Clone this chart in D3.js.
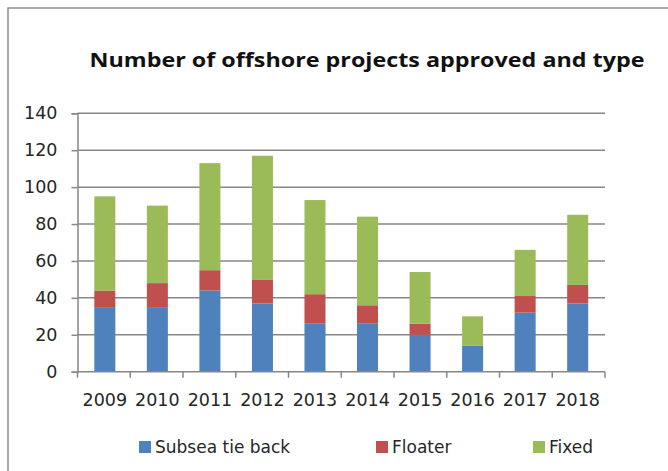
<!DOCTYPE html>
<html>
<head>
<meta charset="utf-8">
<script src="https://cdn.jsdelivr.net/npm/d3@7"></script>
<style>
  html, body { margin: 0; padding: 0; background: #fff; }
  svg { display: block; }
</style>
</head>
<body>
<div id="chart"></div>
<script>
// Offshore projects approved per year, split by development type
const years = ["2009","2010","2011","2012","2013","2014","2015","2016","2017","2018"];
const subseaTieBack = [35, 35, 44, 37, 26, 26, 20, 14, 32, 37];
const floater       = [ 9, 13, 11, 13, 16, 10,  6,  0,  9, 10];
const fixed         = [51, 42, 58, 67, 51, 48, 28, 16, 25, 38];
const seriesNames   = ["Subsea tie back", "Floater", "Fixed"];
const seriesColors  = ["#4F81BD", "#C0504D", "#9BBB59"];
const yTicks        = [0, 20, 40, 60, 80, 100, 120, 140];

const W = 668, H = 471;
const plot = { left: 77.5, right: 605, top: 113.3, bottom: 371.7 };

const svg = d3.select("#chart").append("svg")
  .attr("width", W).attr("height", H);

// chart area frame
svg.append("rect")
  .attr("x", 8).attr("y", 8).attr("width", 700).attr("height", 500)
  .attr("fill", "#fff").attr("stroke", "#8f8f8f").attr("stroke-width", 1.5);

// title
svg.append("text")
  .attr("x", 367).attr("y", 67)
  .attr("text-anchor", "middle")
  .attr("font-family", "'Open Sans', 'DejaVu Sans', sans-serif")
  .attr("font-weight", "bold")
  .attr("font-size", 19)
  .attr("fill", "#111")
  .attr("textLength", 555).attr("lengthAdjust", "spacingAndGlyphs")
  .text("Number of offshore projects approved and type");

const rows = years.map((y, i) => ({
  year: y,
  "Subsea tie back": subseaTieBack[i],
  "Floater": floater[i],
  "Fixed": fixed[i]
}));
const stacked = d3.stack().keys(seriesNames)(rows);

const x = d3.scaleBand().domain(years)
  .range([plot.left, plot.right]).paddingInner(0.6).paddingOuter(0.32);
const y = d3.scaleLinear().domain([0, 140]).range([plot.bottom, plot.top]);

// horizontal gridlines
svg.append("g").selectAll("line").data(yTicks.slice(1)).join("line")
  .attr("x1", plot.left).attr("x2", plot.right)
  .attr("y1", d => y(d)).attr("y2", d => y(d))
  .attr("stroke", "#878787").attr("stroke-width", 1.5);

// stacked bars
svg.append("g").selectAll("g").data(stacked).join("g")
  .attr("fill", (d, i) => seriesColors[i])
  .selectAll("rect").data(d => d).join("rect")
  .attr("x", d => x(d.data.year))
  .attr("width", x.bandwidth())
  .attr("y", d => y(d[1]))
  .attr("height", d => Math.max(0, y(d[0]) - y(d[1])));

const textColor = "#262626";
const axisFont = "'DejaVu Sans', Verdana, sans-serif";

// y axis
const yAxis = svg.append("g")
  .attr("transform", `translate(${plot.left},0)`)
  .call(d3.axisLeft(y).tickValues(yTicks).tickSize(6).tickPadding(14));
yAxis.select(".domain").attr("stroke", "#878787").attr("stroke-width", 1.5);
yAxis.selectAll(".tick line").attr("stroke", "#878787").attr("stroke-width", 1.5);
yAxis.selectAll(".tick text")
  .attr("font-family", axisFont).attr("font-size", 17.5).attr("fill", textColor);

// x axis with tick marks at category boundaries
const xAxis = svg.append("g")
  .attr("transform", `translate(0,${plot.bottom})`)
  .call(d3.axisBottom(x).tickSize(0).tickPadding(22));
xAxis.select(".domain").remove();
xAxis.append("line")
  .attr("x1", plot.left).attr("x2", plot.right)
  .attr("stroke", "#878787").attr("stroke-width", 1.5);
const step = (plot.right - plot.left) / years.length;
xAxis.selectAll(".bound").data(d3.range(years.length + 1)).join("line")
  .attr("class", "bound")
  .attr("x1", i => plot.left + i * step).attr("x2", i => plot.left + i * step)
  .attr("y1", 0).attr("y2", 6)
  .attr("stroke", "#878787").attr("stroke-width", 1.5);
xAxis.selectAll(".tick text")
  .attr("font-family", axisFont).attr("font-size", 17.5).attr("fill", textColor);

// legend
const legendX = [139, 376, 533];
const legend = svg.append("g").selectAll("g").data(seriesNames).join("g")
  .attr("transform", (d, i) => `translate(${legendX[i]},447)`);
legend.append("rect")
  .attr("x", 0).attr("y", -6).attr("width", 12).attr("height", 12)
  .attr("fill", (d, i) => seriesColors[i]);
legend.append("text")
  .attr("x", 16).attr("y", 6)
  .attr("font-family", axisFont).attr("font-size", 17).attr("fill", textColor)
  .text(d => d);
</script>
</body>
</html>
